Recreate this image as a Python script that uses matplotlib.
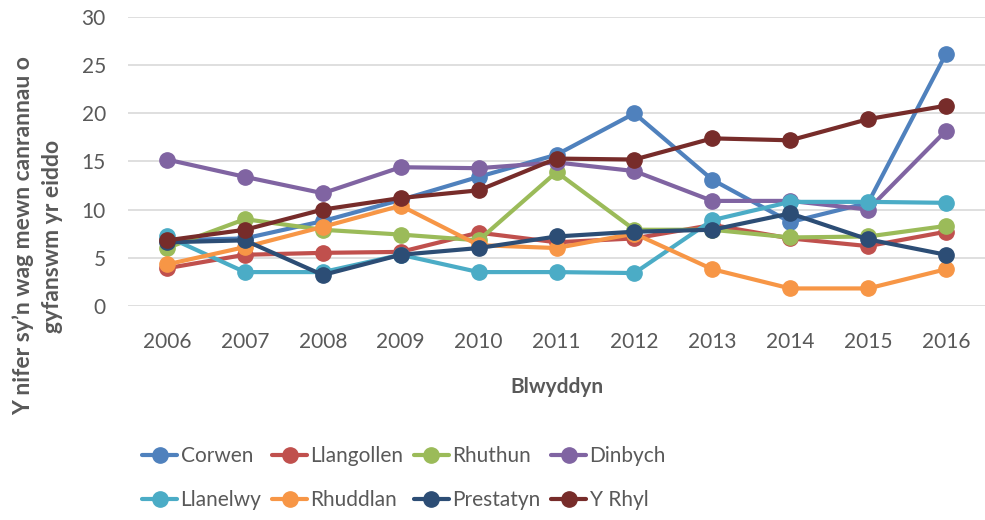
import matplotlib
matplotlib.use("Agg")
import matplotlib.pyplot as plt

plt.rcParams["font.family"] = ["Lato", "DejaVu Sans"]

years = ["2006", "2007", "2008", "2009", "2010", "2011",
         "2012", "2013", "2014", "2015", "2016"]

corwen = [6.8, 7.0, 8.8, 11.0, 13.4, 15.7, 20.0, 13.1, 8.7, 10.7, 26.2]
llangollen = [3.9, 5.3, 5.5, 5.6, 7.6, 6.6, 7.0, 8.4, 7.0, 6.2, 7.7]
rhuthun = [6.0, 9.0, 7.9, 7.4, 6.8, 13.9, 7.9, 7.9, 7.1, 7.2, 8.3]
dinbych = [15.2, 13.4, 11.7, 14.4, 14.3, 14.9, 14.0, 10.9, 10.9, 10.0, 18.2]
llanelwy = [7.2, 3.5, 3.5, 5.3, 3.5, 3.5, 3.4, 8.9, 10.8, 10.8, 10.7]
rhuddlan = [4.3, 6.1, 8.2, 10.4, 6.3, 6.0, 7.5, 3.8, 1.8, 1.8, 3.8]
prestatyn = [6.6, 6.8, 3.2, 5.3, 6.0, 7.2, 7.7, 7.9, 9.6, 6.9, 5.3]
y_rhyl = [6.8, 7.9, 10.0, 11.2, 12.0, 15.3, 15.2, 17.4, 17.2, 19.4, 20.8]

names = ["Corwen", "Llangollen", "Rhuthun", "Dinbych",
         "Llanelwy", "Rhuddlan", "Prestatyn", "Y Rhyl"]
series = [corwen, llangollen, rhuthun, dinbych,
          llanelwy, rhuddlan, prestatyn, y_rhyl]
colors = ["#4F81BD", "#C0504D", "#9BBB59", "#8064A2",
          "#4BACC6", "#F79646", "#2C4D75", "#772C2A"]

text_color = "#595959"

fig = plt.figure(figsize=(9.85, 5.2), dpi=100)
ax = fig.add_axes([0.130, 0.412, 0.870, 0.555])

x = list(range(len(years)))
handles = []
for name, vals, c in zip(names, series, colors):
    h, = ax.plot(x, vals, color=c, lw=3.0, marker="o", markersize=11,
                 label=name, solid_capstyle="round")
    handles.append(h)

ax.set_xlim(-0.5, len(years) - 0.5)
ax.set_ylim(0, 30)
ax.set_yticks(range(0, 31, 5))
ax.set_xticks(x)
ax.set_xticklabels(years)
ax.grid(axis="y", color="#D9D9D9", lw=1.2)
ax.set_axisbelow(True)
for s in ax.spines.values():
    s.set_visible(False)
ax.tick_params(length=0, colors=text_color, labelsize=15)
ax.tick_params(axis="y", pad=16)
ax.tick_params(axis="x", pad=19)

ax.set_xlabel("Blwyddyn", fontsize=15, fontweight="bold", color=text_color,
              labelpad=18)
fig.text(0.038, 1 - 236 / 520,
         "Y nifer sy\u2019n wag mewn canrannau o\ngyfanswm yr eiddo",
         rotation=90, ha="center", va="center", multialignment="center",
         fontsize=16.5, fontweight="bold", color=text_color, linespacing=1.45)

# legend fills column-first, reorder so rows read like the original
ncol = 4
order = []
for c in range(ncol):
    for r in range(2):
        order.append(r * ncol + c)
leg = fig.legend([handles[i] for i in order], [names[i] for i in order],
                 ncol=ncol, loc="center left",
                 bbox_to_anchor=(142 / 985, 1 - 478 / 520),
                 frameon=False, fontsize=15, handlelength=1.7,
                 handletextpad=0.15, columnspacing=0.5, labelspacing=1.15,
                 borderpad=0, borderaxespad=0)
for t in leg.get_texts():
    t.set_color(text_color)

fig.savefig("out.png", dpi=100)
